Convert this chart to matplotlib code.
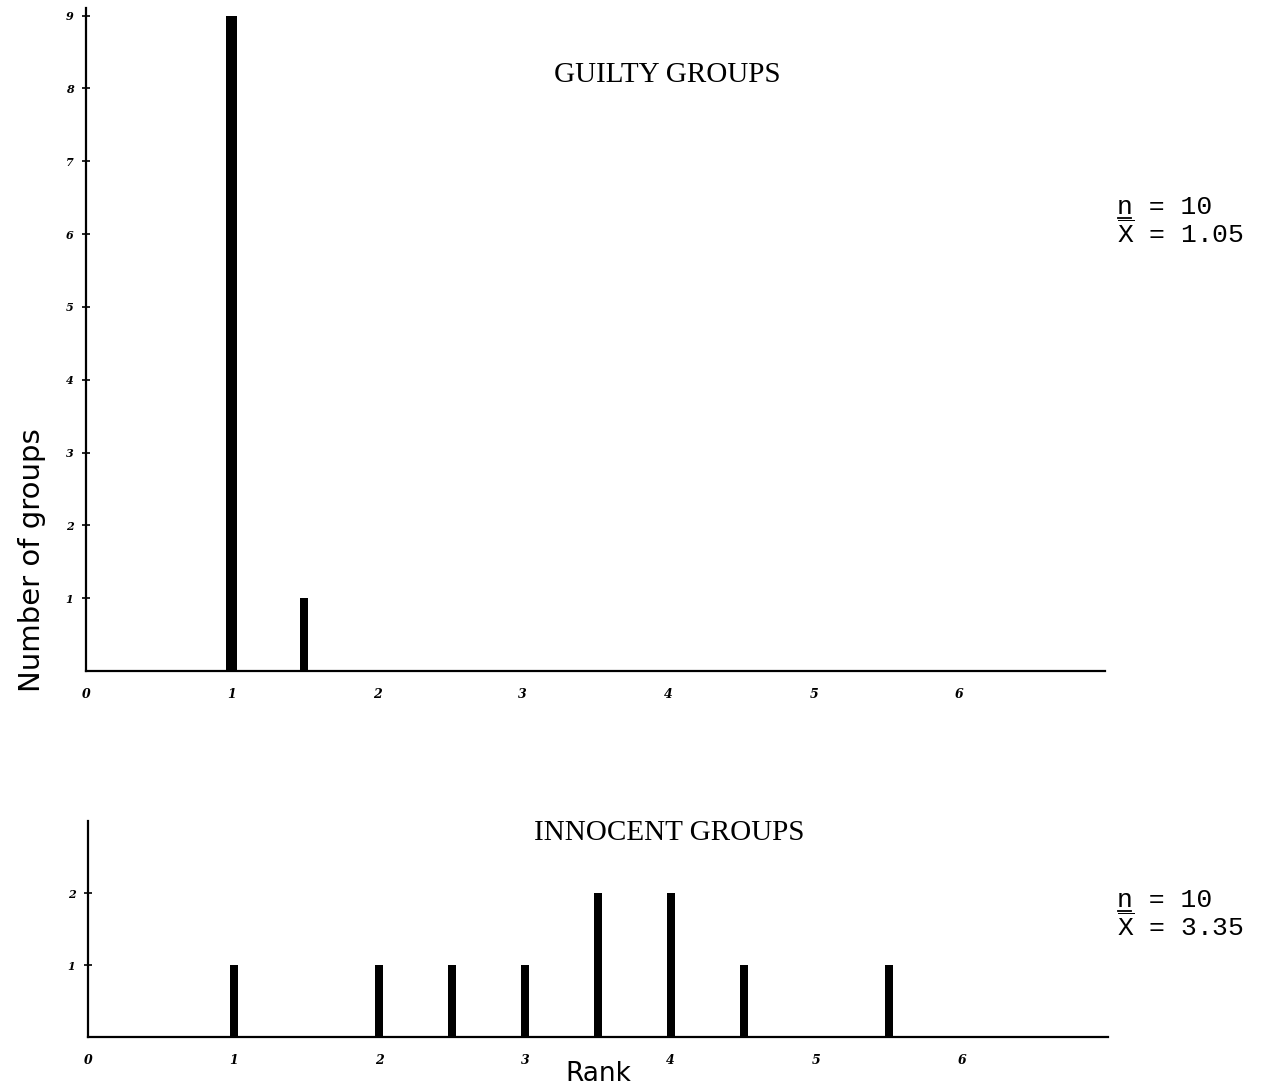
"""
Guilty vs innocent groups: distribution of ranks (two stacked bar panels)
"""

import matplotlib
matplotlib.use("Agg")
import matplotlib.pyplot as plt
from matplotlib.lines import Line2D

plt.rcParams['mathtext.fontset'] = 'custom'
plt.rcParams['mathtext.rm'] = 'Liberation Mono'

# Данные: ранги и число групп
guilty_ranks = [1.0, 1.5]
guilty_counts = [9, 1]
guilty_n = 10
guilty_mean = "1.05"

innocent_ranks = [1.0, 2.0, 2.5, 3.0, 3.5, 4.0, 4.5, 5.5]
innocent_counts = [1, 1, 1, 1, 2, 2, 1, 1]
innocent_n = 10
innocent_mean = "3.35"

x_ticks = [0, 1, 2, 3, 4, 5, 6]
guilty_yticks = [1, 2, 3, 4, 5, 6, 7, 8, 9]
innocent_yticks = [1, 2]

fig = plt.figure(figsize=(12.82, 10.9), dpi=100)

ax_top = fig.add_axes([0.067, 0.3844, 0.795, 0.608])
ax_bot = fig.add_axes([0.0686, 0.0486, 0.7956, 0.198])


def style_axis(ax, yticks, ymax):
    for side in ['top', 'right']:
        ax.spines[side].set_visible(False)
    ax.spines['left'].set_linewidth(1.6)
    ax.spines['bottom'].set_linewidth(1.6)
    ax.set_xlim(0, 7)
    ax.set_ylim(0, ymax)
    ax.set_yticks(yticks)
    ax.set_yticklabels([str(t) for t in yticks], fontsize=8,
                       fontstyle='italic', fontweight='bold', family='serif')
    ax.tick_params(axis='y', direction='inout', length=6, width=1.2, pad=6)
    ax.set_xticks(x_ticks)
    ax.set_xticklabels([str(t) for t in x_ticks], fontsize=9,
                       fontstyle='italic', fontweight='bold', family='serif')
    ax.tick_params(axis='x', length=0, pad=12)


# Верхняя панель: виновные группы
ax_top.bar(guilty_ranks, guilty_counts, width=[0.07, 0.055], color='black')
style_axis(ax_top, guilty_yticks, 9.1)
ax_top.text(0.57, 0.899, "GUILTY GROUPS", transform=ax_top.transAxes,
            ha='center', va='center', fontsize=21, family='Liberation Serif')

# Нижняя панель: невиновные группы
ax_bot.bar(innocent_ranks, innocent_counts, width=0.055, color='black')
style_axis(ax_bot, innocent_yticks, 3)
ax_bot.text(0.57, 0.944, "INNOCENT GROUPS", transform=ax_bot.transAxes,
            ha='center', va='center', fontsize=21, family='Liberation Serif')
ax_bot.set_xlabel("Rank", fontsize=19, labelpad=-4)

fig.text(0.025, 0.486, "Number of groups", rotation=90, ha='center',
         va='center', fontsize=21)

# Подписи n и среднего
n_texts = []
for y_n, n, mean in [(1 - 207 / 1090, guilty_n, guilty_mean),
                     (1 - 900 / 1090, innocent_n, innocent_mean)]:
    t = fig.text(0.871, y_n, f"n = {n}", fontsize=19,
                 family='Liberation Mono', va='center')
    n_texts.append(t)
    fig.text(0.871, y_n - 0.025, r"$\overline{\mathrm{X}}$" + f" = {mean}",
             fontsize=19, family='Liberation Mono', va='center')

# Подчёркивание буквы n
renderer = fig.canvas.get_renderer()
inv = fig.transFigure.inverted()
for t in n_texts:
    bb = t.get_window_extent(renderer)
    cw = bb.width / len(t.get_text())
    (x0, y0) = inv.transform((bb.x0 + 1, bb.y0 + 1))
    (x1, _) = inv.transform((bb.x0 + cw - 1, bb.y0 + 1))
    fig.add_artist(Line2D([x0, x1], [y0, y0], color='black', linewidth=1.3,
                          transform=fig.transFigure))

plt.savefig('out.png', dpi=100)
